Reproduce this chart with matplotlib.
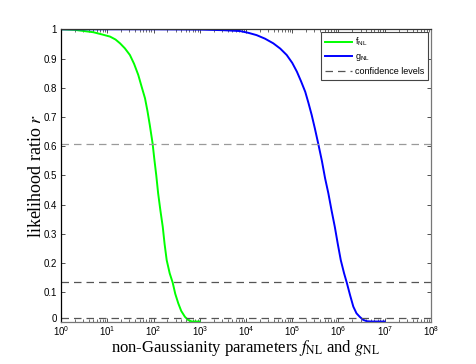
import matplotlib
matplotlib.use("Agg")
import matplotlib.pyplot as plt
import matplotlib.transforms as mtransforms
from matplotlib.ticker import LogLocator, NullFormatter

# data
f_x = [1, 2, 5, 7.9, 11.5, 15.1, 18.9, 24, 30.9, 38, 46.8, 56.2, 65.5, 74.1, 83.2, 95.5,
       104.7, 114.8, 125.9, 141, 158.5, 173.8, 192.8, 223.9, 260, 295, 343.6, 398, 478.6,
       562, 676, 1000]
f_r = [1.0, 0.998, 0.990, 0.982, 0.975, 0.965, 0.952, 0.935, 0.912, 0.882, 0.844, 0.80,
       0.764, 0.72, 0.672, 0.610, 0.553, 0.50, 0.439, 0.38, 0.324, 0.265, 0.210, 0.165,
       0.133, 0.095, 0.062, 0.036, 0.016, 0.005, 0.0, 0.0]

g_x = [1, 10, 100, 1000, 3162, 7413, 1.12e4, 1.7e4, 2.57e4, 3.89e4, 5.5e4, 7.59e4, 1e5,
       1.26e5, 1.55e5, 1.91e5, 2.24e5, 2.63e5, 3.09e5, 3.63e5, 4.37e5, 5.13e5, 6.03e5,
       7.08e5, 8.32e5, 9.66e5, 1.12e6, 1.32e6, 1.51e6, 1.78e6, 2.09e6, 2.45e6, 2.88e6,
       3.39e6, 4.07e6, 5.01e6, 1e7]
g_r = [1.0, 1.0, 1.0, 0.999, 0.997, 0.994, 0.988, 0.980, 0.968, 0.952, 0.934, 0.912, 0.885,
       0.855, 0.822, 0.786, 0.748, 0.707, 0.66, 0.610, 0.55, 0.49, 0.439, 0.38, 0.324,
       0.265, 0.210, 0.165, 0.133, 0.09, 0.051, 0.028, 0.016, 0.006, 0.001, 0.0, 0.0]

conf_levels = [0.607, 0.135, 0.011]
conf_colors = ['#9a9a9a', '#555555', '#555555']
x_limits = [1, 1e8]
y_ticks = [0, 0.1, 0.2, 0.3, 0.4, 0.5, 0.6, 0.7, 0.8, 0.9, 1]
y_ticklabels = ['0', '0.1', '0.2', '0.3', '0.4', '0.5', '0.6', '0.7', '0.8', '0.9', '1']

plt.rcParams['mathtext.fontset'] = 'stix'

fig = plt.figure(figsize=(4.77, 3.64), dpi=100)
ax = fig.add_axes([61/477, 1 - 321.5/364, 370/477, 292.2/364])

ax.plot(f_x, f_r, color='#00ff00', lw=1.4, label=r'f$_{\mathregular{NL}}$')
ax.plot(g_x, g_r, color='#0000ff', lw=1.4, label=r'g$_{\mathregular{NL}}$')
for i, (lv, c) in enumerate(zip(conf_levels, conf_colors)):
    ax.axhline(lv, color=c, lw=0.9, ls=(0, (6, 4)),
               label='confidence levels' if i == 1 else None)

ax.set_xscale('log')
ax.set_xlim(x_limits)
ax.set_ylim(0, 1)
ax.set_yticks(y_ticks)
ax.set_yticklabels(y_ticklabels)
ax.xaxis.set_major_locator(LogLocator(base=10, numticks=20))
ax.xaxis.set_minor_locator(LogLocator(base=10, subs=range(2, 10), numticks=100))
ax.xaxis.set_minor_formatter(NullFormatter())

ax.tick_params(which='both', direction='in', top=True, right=True,
               labelsize=7, colors='#333333', labelcolor='black')
ax.tick_params(axis='y', pad=3)
ax.tick_params(axis='x', pad=2)
ax.tick_params(which='major', length=3, width=0.6)
ax.tick_params(which='minor', length=2, width=0.5)
for lab in ax.get_xticklabels() + ax.get_yticklabels():
    lab.set_family('Liberation Sans')

# lift the "0" label slightly so it clears the 10^0 label
zero_lab = ax.get_yticklabels()[0]
zero_lab.set_transform(zero_lab.get_transform() +
                       mtransforms.ScaledTranslation(0, 3 / 100, fig.dpi_scale_trans))

ax.spines['left'].set_color('black')
ax.spines['top'].set_color('#333333')
ax.spines['bottom'].set_color('#777777')
ax.spines['right'].set_color('#777777')
for s in ax.spines.values():
    s.set_linewidth(0.9)

ax.set_ylabel(r'likelihood ratio $r$', family='Liberation Serif', fontsize=13, labelpad=-1)
ax.set_xlabel(r'non-Gaussianity parameters $f_{\mathrm{NL}}$ and $g_{\mathrm{NL}}$',
              family='Liberation Serif', fontsize=12, labelpad=0)

handles, labels = ax.get_legend_handles_labels()
leg = ax.legend(handles, labels, loc='upper right', prop={'family': 'Liberation Sans', 'size': 6.5},
                frameon=True, fancybox=False, edgecolor='#444444', framealpha=1,
                borderaxespad=0.0, handlelength=3.0, handletextpad=0.3, labelspacing=0.45,
                borderpad=0.45)
leg.set_bbox_to_anchor(((428 - 61) / 370, (321.5 - 32) / 292.2), transform=ax.transAxes)
leg.get_frame().set_linewidth(0.8)

fig.savefig('out.png', dpi=100)
